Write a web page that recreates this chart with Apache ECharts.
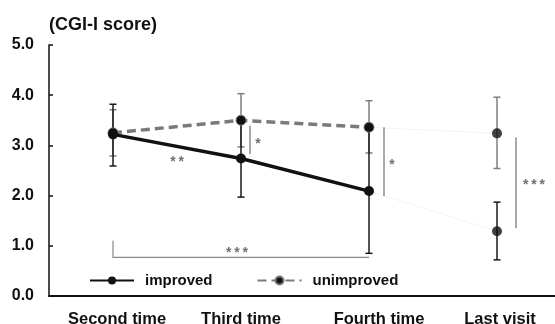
<!DOCTYPE html>
<html>
<head>
<meta charset="utf-8">
<script src="https://cdn.jsdelivr.net/npm/echarts@6/dist/echarts.min.js"></script>
<style>html,body{margin:0;padding:0;background:#fff;}#c{width:555px;height:324px;}</style>
</head>
<body>
<div id="c"></div>
<script>
const categories = ['Second time', 'Third time', 'Fourth time', 'Last visit'];
const yTicks = [0, 1, 2, 3, 4, 5];
const improvedMean = [3.22, 2.74, 2.09, 1.29];
const improvedLow  = [2.59, 1.97, 0.85, 0.72];
const improvedHigh = [3.82, 3.51, 3.33, 1.87];
const unimprovedMean = [3.25, 3.50, 3.36, 3.24];
const unimprovedLow  = [2.79, 2.97, 2.85, 2.54];
const unimprovedHigh = [3.71, 4.03, 3.89, 3.96];
// significance marks: [category index, low value, high value, label, label value]
const sigBars = [
  [1, 2.83, 3.39, '*', 3.11],
  [2, 1.99, 3.36, '*', 2.68],
  [3, 1.35, 3.16, '***', 2.29]
];
// label between two categories: [label, from index, to index, value]
const sigPairLabel = ['**', 0, 1, 2.74];
const bracket = { from: 0, to: 2, top: 1.10, bottom: 0.77, label: '***', labelValue: 0.93 };

const chart = echarts.init(document.getElementById('c'));
const FONT = '"Liberation Sans", Arial, sans-serif';
const TS = '\u2009';
function stars(s) { return s.split('').join(TS); }

function errData(low, high) { return low.map((l, i) => [i, l, high[i]]); }
function errRender(color, width) {
  return function (params, api) {
    const x = api.coord([api.value(0), 0])[0];
    const lo = api.coord([api.value(0), api.value(1)])[1];
    const hi = api.coord([api.value(0), api.value(2)])[1];
    const hw = 3.5;
    const st = { stroke: color, lineWidth: width };
    return { type: 'group', children: [
      { type: 'line', shape: { x1: x, y1: lo, x2: x, y2: hi }, style: st },
      { type: 'line', shape: { x1: x - hw, y1: lo, x2: x + hw, y2: lo }, style: st },
      { type: 'line', shape: { x1: x - hw, y1: hi, x2: x + hw, y2: hi }, style: st }
    ]};
  };
}

const sigOffsets = [9, 15, 19];
const sigLabelOffsets = [8, 8, 18];
const STAR_FONT = 'bold 14px ' + FONT;
const STAR_COLOR = '#707070';
const STAR_DY = 4;
const labelShift = [8, 0, 20, 6];

chart.setOption({
  animation: false,
  title: {
    text: '(CGI-I score)', left: 44, top: 11,
    textStyle: { fontFamily: FONT, fontSize: 18, fontWeight: 'bold', color: '#111' }
  },
  legend: {
    left: 84, top: 268, itemWidth: 44, itemHeight: 10, itemGap: 44,
    data: ['improved', 'unimproved'],
    textStyle: { fontFamily: FONT, fontSize: 15, fontWeight: 'bold', color: '#111', padding: [0, 0, 0, 6] }
  },
  grid: { left: 49, top: 45, width: 512, height: 251, containLabel: false, outerBoundsMode: 'none' },
  xAxis: {
    type: 'category', data: categories, boundaryGap: true,
    axisLine: { lineStyle: { color: '#111', width: 2 } },
    axisTick: { show: false },
    axisLabel: { interval: 0, hideOverlap: false, fontFamily: FONT, fontSize: 16.5, fontWeight: 'bold', color: '#111', margin: 15,
      formatter: (v, i) => '{c' + i + '|' + v + '}',
      rich: {
        c0: { fontFamily: FONT, fontSize: 16.5, fontWeight: 'bold', color: '#111', padding: [0, 0, 0, labelShift[0]] },
        c1: { fontFamily: FONT, fontSize: 16.5, fontWeight: 'bold', color: '#111', padding: [0, 0, 0, labelShift[1]] },
        c2: { fontFamily: FONT, fontSize: 16.5, fontWeight: 'bold', color: '#111', padding: [0, 0, 0, labelShift[2]] },
        c3: { fontFamily: FONT, fontSize: 16.5, fontWeight: 'bold', color: '#111', padding: [0, 0, 0, labelShift[3]] }
      } }
  },
  yAxis: {
    type: 'value', min: 0, max: 5, interval: 1,
    axisLine: { show: true, lineStyle: { color: '#111', width: 1.5 } },
    axisTick: { show: true, inside: true, length: 4, lineStyle: { color: '#111', width: 1.5 } },
    splitLine: { show: false },
    axisLabel: { fontFamily: FONT, fontSize: 16, fontWeight: 'bold', color: '#111', margin: 15,
      formatter: v => yTicks.includes(v) ? v.toFixed(1) : '' }
  },
  series: [
    { name: 'faint1', type: 'line', data: ['-', '-', improvedMean[2], improvedMean[3]], symbol: 'none',
      lineStyle: { color: '#f3f3f3', width: 1 }, silent: true, z: 1 },
    { name: 'faint2', type: 'line', data: ['-', '-', unimprovedMean[2], unimprovedMean[3]], symbol: 'none',
      lineStyle: { color: '#f3f3f3', width: 1 }, silent: true, z: 1 },
    { name: 'errU', type: 'custom', data: errData(unimprovedLow, unimprovedHigh),
      renderItem: errRender('#7f7f7f', 1.5), z: 2 },
    { name: 'errI', type: 'custom', data: errData(improvedLow, improvedHigh),
      renderItem: errRender('#1a1a1a', 1.5), z: 3 },
    { name: 'unimproved', type: 'line', data: unimprovedMean.slice(0, 3).concat(['-']),
      symbol: 'circle', symbolSize: 10,
      itemStyle: { color: '#111', borderColor: '#777', borderWidth: 1 },
      lineStyle: { color: '#7a7a7a', width: 3.5, type: [9, 5] }, z: 4 },
    { name: 'improved', type: 'line', data: improvedMean.slice(0, 3).concat(['-']),
      symbol: 'circle', symbolSize: 10,
      itemStyle: { color: '#111' },
      lineStyle: { color: '#111', width: 3.5 }, z: 5 },
    { name: 'lastPts', type: 'scatter', symbol: 'circle', symbolSize: 10,
      data: [[3, improvedMean[3]], [3, unimprovedMean[3]]],
      itemStyle: { color: '#111' }, z: 6 },
    { name: 'sig', type: 'custom', data: sigBars.map(s => [s[0], s[1], s[2], s[4]]), z: 7,
      renderItem: function (params, api) {
        const i = params.dataIndex;
        const x = api.coord([api.value(0), 0])[0] + sigOffsets[i];
        const lo = api.coord([api.value(0), api.value(1)])[1];
        const hi = api.coord([api.value(0), api.value(2)])[1];
        const ly = api.coord([api.value(0), api.value(3)])[1];
        return { type: 'group', children: [
          { type: 'line', shape: { x1: x, y1: lo, x2: x, y2: hi }, style: { stroke: '#555', lineWidth: 1 } },
          { type: 'text', style: { x: x + sigLabelOffsets[i], y: ly + STAR_DY, text: stars(sigBars[i][3]), fill: STAR_COLOR,
            font: STAR_FONT, align: 'center', verticalAlign: 'middle' } }
        ]};
      } },
    { name: 'pairLabel', type: 'custom', data: [[sigPairLabel[1], sigPairLabel[2], sigPairLabel[3]]], z: 7,
      renderItem: function (params, api) {
        const xa = api.coord([api.value(0), 0])[0];
        const xb = api.coord([api.value(1), 0])[0];
        const y = api.coord([0, api.value(2)])[1];
        return { type: 'text', style: { x: (xa + xb) / 2, y: y + STAR_DY, text: stars(sigPairLabel[0]), fill: STAR_COLOR,
          font: STAR_FONT, align: 'center', verticalAlign: 'middle' } };
      } },
    { name: 'bracket', type: 'custom', data: [[bracket.from, bracket.to, bracket.top, bracket.bottom, bracket.labelValue]], z: 7,
      renderItem: function (params, api) {
        const x1 = api.coord([api.value(0), 0])[0];
        const x2 = api.coord([api.value(1), 0])[0];
        const yt = api.coord([0, api.value(2)])[1];
        const yb = api.coord([0, api.value(3)])[1];
        const yl = api.coord([0, api.value(4)])[1];
        const st = { stroke: '#888', lineWidth: 1.2, fill: null };
        return { type: 'group', children: [
          { type: 'polyline', shape: { points: [[x1, yt], [x1, yb], [x2, yb]] }, style: st },
          { type: 'text', style: { x: (x1 + x2) / 2 - 4, y: yl + STAR_DY, text: stars(bracket.label), fill: STAR_COLOR,
            font: STAR_FONT, align: 'center', verticalAlign: 'middle' } }
        ]};
      } }
  ]
});
</script>
</body>
</html>
